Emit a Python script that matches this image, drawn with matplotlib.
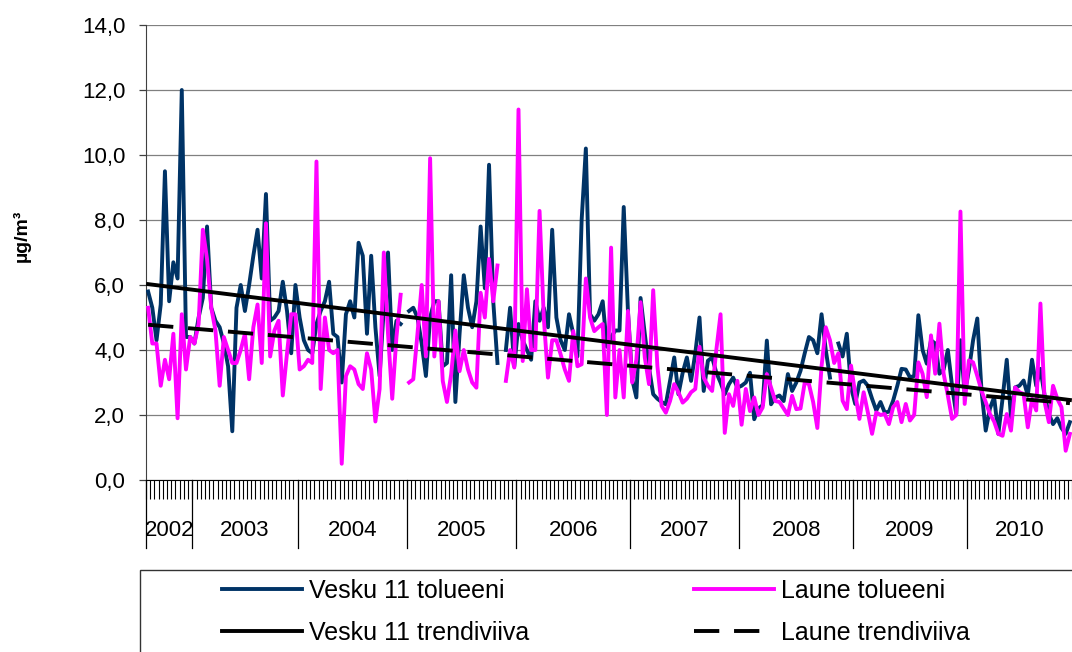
import numpy as np
import matplotlib
matplotlib.use("Agg")
import matplotlib.pyplot as plt
from matplotlib.patches import Rectangle
from matplotlib.transforms import blended_transform_factory

plt.rcParams['font.family'] = ['Liberation Sans', 'DejaVu Sans']

nan = np.nan

years = ['2002', '2003', '2004', '2005', '2006', '2007', '2008', '2009', '2010']
samples_per_year = [11, 25, 26, 26, 27, 26, 27, 27, 25]

# two-week samples, ug/m3
vesku = [
    5.8, 5.3, 4.3, 5.4, 9.5, 5.5, 6.7, 6.2, 12.0, 4.4, 4.4,
    4.2, 5.0, 5.6, 7.8, 5.3, 4.9, 4.7, 4.2, 3.5, 1.5, 5.3, 6.0, 5.2, 6.0, 6.9,
    7.7, 6.2, 8.8, 4.9, 5.0, 5.2, 6.1, 5.2, 3.9, 6.0,
    5.0, 4.3, 4.0, 3.9, 4.8, 5.2, 5.5, 6.1, 4.5, 4.4, 3.0, 5.1, 5.5, 5.0, 7.3,
    6.9, 4.5, 6.9, 4.7, 3.2, 5.3, 7.0, 4.0, 4.9, 4.8, nan,
    5.2, 5.3, 5.0, 4.2, 3.2, 5.0, 5.5, 5.5, 3.5, 3.6, 6.3, 2.4, 4.5, 6.3, 5.3,
    4.7, 5.5, 7.8, 5.9, 9.7, 5.5, 3.6, nan, 4.0, 5.3, 3.5,
    4.8, 4.3, 4.0, 3.7, 5.5, 4.9, 5.3, 4.7, 7.7, 5.0, 4.3, 4.0, 5.1, 4.5, 3.8,
    8.0, 10.2, 5.1, 4.9, 5.1, 5.5, 4.1, 4.4, 4.6, 4.6, 8.4, 5.2,
    3.1, 2.54, 5.6, 4.5, 3.46, 2.64, 2.5, 2.4, 2.33, 3.05, 3.77, 2.64, 3.3,
    3.77, 3.05, 3.9, 5.0, 2.74, 3.67, 3.77, 3.3, 3.0, 2.64, 2.95, 3.15, 2.84,
    2.9, 3.0, 3.3, 1.87, 2.2, 2.3, 4.29, 2.33, 2.54, 2.6, 2.43, 3.26, 2.74, 3.0,
    3.36, 3.9, 4.4, 4.3, 3.9, 5.1, 4.0, 3.15, nan, 4.2, 3.8, 4.5, 2.85,
    2.34, 3.0, 3.06, 2.9, 2.5, 2.14, 2.4, 2.08, 2.1, 2.44, 2.9, 3.42, 3.4, 3.16,
    3.2, 5.07, 4.0, 3.58, 4.3, 4.2, 3.27, 3.4, 4.0, 2.9, 2.03, 4.3, 2.65,
    3.37, 4.3, 4.97, 2.75, 1.52, 2.2, 2.55, 1.42, 2.5, 3.7, 1.93, 2.85, 2.9,
    3.06, 2.6, 3.7, 2.9, 3.42, 2.6, 2.03, 1.72, 1.9, 1.6, 1.42, 1.78,
]

laune = [
    5.3, 4.2, 4.2, 2.9, 3.7, 3.1, 4.5, 1.9, 5.1, 3.4, 4.4,
    4.2, 4.8, 7.7, 6.8, 5.3, 4.6, 2.9, 4.4, 4.0, 3.6, 3.6, 4.0, 4.5, 3.1, 4.7,
    5.4, 3.6, 7.9, 3.8, 4.6, 4.9, 2.6, 3.9, 5.1, 5.1,
    3.4, 3.5, 3.7, 3.6, 9.8, 2.8, 5.0, 4.0, 3.9, 4.0, 0.5, 3.2, 3.5, 3.4, 2.95,
    2.8, 3.9, 3.4, 1.8, 2.8, 7.0, 4.5, 2.5, 4.4, 5.7, nan,
    3.0, 3.1, 4.5, 6.0, 3.8, 9.9, 3.8, 5.5, 3.05, 2.4, 3.25, 4.6, 3.35, 4.0,
    3.4, 3.0, 2.84, 5.76, 5.0, 6.8, 5.5, 6.6, nan, 3.05, 4.0, 3.46,
    11.4, 3.66, 5.87, 4.0, 4.0, 8.28, 5.0, 3.15, 4.3, 4.3, 3.87, 3.4, 3.05,
    4.58, 3.5, 3.56, 6.2, 5.0, 4.58, 4.7, 4.8, 2.0, 7.15, 2.54, 4.0, 2.54, 5.2,
    3.0, 3.7, 5.47, 3.77, 2.95, 5.84, 3.5, 2.28, 2.07, 2.43, 2.95, 2.7, 2.38,
    2.5, 2.7, 2.8, 4.1, 3.15, 2.9, 2.74, 4.0, 5.1, 1.45, 2.64, 2.28, 3.05,
    1.7, 2.8, 2.12, 2.54, 2.0, 2.23, 3.26, 2.85, 2.43, 2.4, 2.2, 2.0, 2.59,
    2.18, 2.2, 3.0, 2.95, 2.4, 1.6, 3.5, 4.7, 4.3, 3.6, 3.9, 2.44, 2.18, 3.52,
    2.65, 1.88, 2.7, 2.08, 1.42, 2.08, 2.0, 2.03, 1.72, 2.24, 2.4, 1.78, 2.34,
    1.83, 2.0, 3.62, 3.27, 2.55, 4.45, 3.27, 4.81, 3.27, 2.6, 1.88, 2.0, 8.26, 2.34,
    3.68, 3.62, 3.2, 2.75, 2.4, 2.03, 1.8, 1.42, 1.36, 2.03, 1.52, 2.85, 2.7,
    2.65, 1.62, 2.5, 2.14, 5.43, 2.4, 1.78, 2.9, 2.5, 2.24, 0.9, 1.42,
]

n = sum(samples_per_year)
assert len(vesku) == n and len(laune) == n

vesku = np.array(vesku)
laune = np.array(laune)
x = np.arange(n)


def trend(y):
    ok = ~np.isnan(y)
    k, b = np.polyfit(x[ok], y[ok], 1)
    return k * x + b


fig = plt.figure(figsize=(10.72, 6.52), dpi=100)
ax = fig.add_axes([146 / 1072, 1 - 480 / 652, 1 - 146 / 1072, 455 / 652])

l1, = ax.plot(x, vesku, color='#003366', lw=2.8, label='Vesku 11 tolueeni', zorder=3)
l2, = ax.plot(x, laune, color='#ff00ff', lw=2.8, label='Laune tolueeni', zorder=4)
l3, = ax.plot(x, trend(vesku), color='black', lw=2.8, label='Vesku 11 trendiviiva', zorder=5)
l4, = ax.plot(x, trend(laune), color='black', lw=2.8, ls=(0, (6.5, 3.8)),
              label='Laune trendiviiva', zorder=5)

ax.set_ylim(0, 14)
ax.set_xlim(-0.5, n - 0.5)
ax.set_yticks(np.arange(0, 15, 2))
ax.set_yticklabels([f'{v:.1f}'.replace('.', ',') for v in np.arange(0, 15, 2)])
ax.yaxis.grid(True, color='#808080', lw=0.9)
ax.set_axisbelow(True)
for s in ['top', 'right']:
    ax.spines[s].set_visible(False)
ax.spines['left'].set_color('#404040')
ax.spines['bottom'].set_color('black')
ax.tick_params(axis='y', labelsize=16, length=5, width=0.9, color='#404040', pad=10)

# category ticks, one per sample
ax.set_xticks(np.arange(n + 1) - 0.5)
ax.set_xticklabels([])
ax.tick_params(axis='x', length=14, width=0.8, color='black', direction='out')

# year separators and labels
tr = blended_transform_factory(ax.transData, ax.transAxes)
bounds = np.concatenate([[0], np.cumsum(samples_per_year)]) - 0.5
for b in bounds[:-1]:
    ax.plot([b, b], [0, -0.15], color='black', lw=0.9, transform=tr, clip_on=False)
for yr, a, b in zip(years, bounds[:-1], bounds[1:]):
    ax.text((a + b) / 2, -0.11, yr, transform=tr, ha='center', va='center', fontsize=16)

fig.text(22 / 1072, 1 - 236 / 652, 'µg/m³', rotation=90, ha='center', va='center',
         fontsize=14, fontweight='bold')

# legend box running off the bottom/right edge
fig.patches.append(Rectangle((140 / 1072, -0.2), 1.0, 0.2 + 1 - 570 / 652,
                             transform=fig.transFigure, fill=False,
                             edgecolor='#333333', lw=1.0))
fig.legend([l1, l3, l2, l4], [h.get_label() for h in (l1, l3, l2, l4)],
           loc='upper left', bbox_to_anchor=(222 / 1072, 1 - 579 / 652), ncol=2,
           frameon=False, fontsize=18, handlelength=3.2, handletextpad=0.28,
           columnspacing=6.6, labelspacing=0.72, borderpad=0, borderaxespad=0)

fig.savefig('out.png', dpi=100)
